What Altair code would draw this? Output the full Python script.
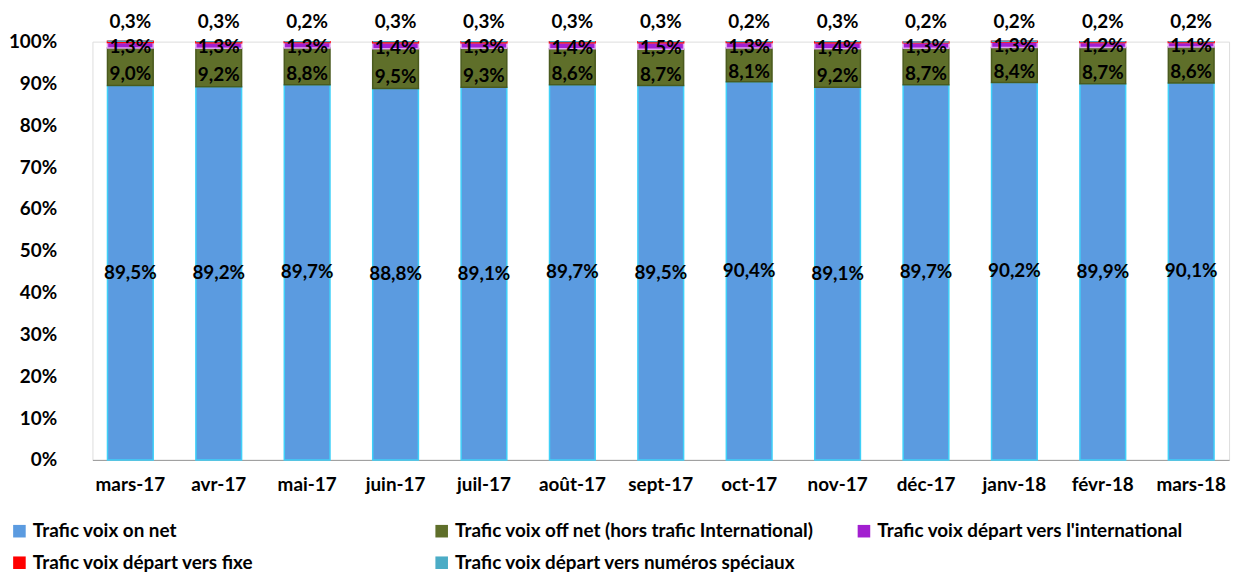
import altair as alt
import pandas as pd

months = ["mars-17", "avr-17", "mai-17", "juin-17", "juil-17", "août-17", "sept-17",
          "oct-17", "nov-17", "déc-17", "janv-18", "févr-18", "mars-18"]
on_net = [89.5, 89.2, 89.7, 88.8, 89.1, 89.7, 89.5, 90.4, 89.1, 89.7, 90.2, 89.9, 90.1]
off_net = [9.0, 9.2, 8.8, 9.5, 9.3, 8.6, 8.7, 8.1, 9.2, 8.7, 8.4, 8.7, 8.6]
intl = [1.3, 1.3, 1.3, 1.4, 1.3, 1.4, 1.5, 1.3, 1.4, 1.3, 1.3, 1.2, 1.1]
fixe = [0.3, 0.3, 0.2, 0.3, 0.3, 0.3, 0.3, 0.2, 0.3, 0.2, 0.2, 0.2, 0.2]
speciaux = [0.0] * 13

series = ["Trafic voix on net",
          "Trafic voix  off net (hors trafic International)",
          "Trafic voix  départ vers l'international",
          " Trafic voix  départ vers fixe",
          " Trafic voix  départ vers numéros spéciaux"]
colors = ["#5b9be0", "#5f6f2a", "#a21fd0", "#ff0000", "#4bacc6"]
strokes = ["#3fd0f8", "#4a5a1e", "#e0a0f0", "#ff0000", "#4bacc6"]
values = [on_net, off_net, intl, fixe, speciaux]

rows = []
for si, (s, vals) in enumerate(zip(series, values)):
    for m, v in zip(months, vals):
        rows.append({"month": m, "series": s, "order": si, "value": v / 100.0})
df = pd.DataFrame(rows)

def fmt(v):
    return f"{v:.1f}%".replace(".", ",")

lab_rows = []
for i, m in enumerate(months):
    on, off, it, fx = on_net[i] / 100, off_net[i] / 100, intl[i] / 100, fixe[i] / 100
    lab_rows.append({"month": m, "y": on / 2, "label": fmt(on_net[i])})
    lab_rows.append({"month": m, "y": on + off * 0.3, "label": fmt(off_net[i])})
    lab_rows.append({"month": m, "y": on + off + it * 0.2, "label": fmt(intl[i])})
    lab_rows.append({"month": m, "y": 1.048, "label": fmt(fixe[i])})
labels = pd.DataFrame(lab_rows)

FONT = "Lato"

x_enc = alt.X("month:N", sort=months, title=None,
              scale=alt.Scale(paddingInner=0.483, paddingOuter=0.17),
              axis=alt.Axis(labelAngle=0, labelFontSize=19, labelFontWeight="bold",
                            labelColor="black", labelFont=FONT, ticks=False,
                            domainColor="#999999", labelPadding=16))

bars = alt.Chart(df).mark_bar(strokeWidth=1.5).encode(
    x=x_enc,
    y=alt.Y("value:Q", stack="zero", title=None,
            scale=alt.Scale(domain=[0, 1], nice=False),
            axis=alt.Axis(format=".0%", values=[i / 10 for i in range(11)],
                          grid=False, domain=False, ticks=False, labelFontSize=19,
                          labelFontWeight="bold", labelColor="black", labelFont=FONT,
                          labelPadding=36)),
    color=alt.Color("series:N", sort=series,
                    scale=alt.Scale(domain=series, range=colors),
                    legend=alt.Legend(title=None, orient="none", legendX=-83, legendY=483,
                                      direction="horizontal", columns=3, gridAlign="all",
                                      symbolType="square", symbolSize=160,
                                      symbolStrokeWidth=0,
                                      labelFontSize=19, labelFontWeight="bold",
                                      labelFont=FONT, labelColor="black",
                                      labelLimit=0, columnPadding=36, rowPadding=12,
                                      symbolOffset=0)),
    stroke=alt.Stroke("series:N", scale=alt.Scale(domain=series, range=strokes), legend=None),
    order=alt.Order("order:Q", sort="ascending"),
)

text = alt.Chart(labels).mark_text(fontSize=19, fontWeight="bold", font=FONT,
                                   color="black", baseline="middle").encode(
    x=alt.X("month:N", sort=months),
    y=alt.Y("y:Q"),
    text="label:N",
)

chart = alt.layer(bars, text).properties(
    width=1144, height=421,
    autosize=alt.AutoSizeParams(type="none"),
    padding={"left": 85, "top": 32, "right": 12, "bottom": 114},
).configure_view(stroke=None).configure(background="white")

chart.save("out.html", embed_options={"renderer": "svg", "actions": False})
